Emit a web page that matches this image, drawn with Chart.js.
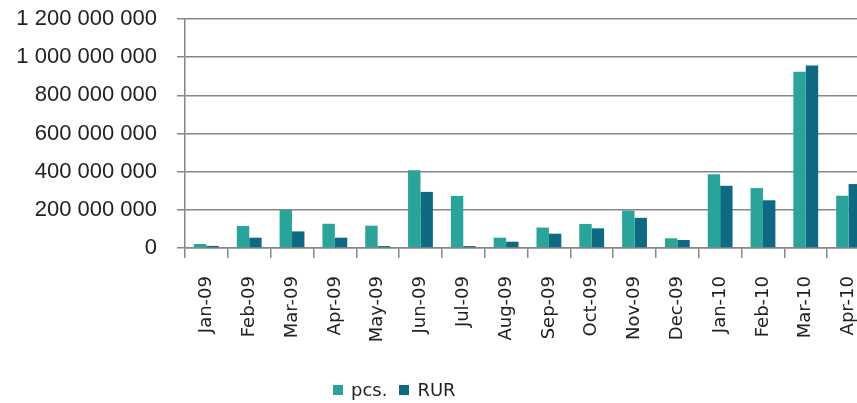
<!DOCTYPE html>
<html>
<head>
<meta charset="utf-8">
<script src="https://cdn.jsdelivr.net/npm/chart.js@4"></script>
<style>
  html, body { margin: 0; padding: 0; background: #fff; overflow: hidden; }
  #wrap { position: relative; width: 870px; height: 403px; }
  #chart { display: block; }
  #legend { position: absolute; left: 333px; top: 379px; font: 18px "DejaVu Sans", sans-serif; color: #222; white-space: nowrap; }
  #legend span.box { display: inline-block; width: 10px; height: 10px; margin-right: 8px; vertical-align: 1px; }
  #legend span.item { margin-right: 12px; }
</style>
</head>
<body>
<div id="wrap">
  <canvas id="chart" width="870" height="403"></canvas>
  <div id="legend"></div>
</div>
<script>
// months along the x axis
const months = ['Jan-09', 'Feb-09', 'Mar-09', 'Apr-09', 'May-09', 'Jun-09', 'Jul-09', 'Aug-09',
  'Sep-09', 'Oct-09', 'Nov-09', 'Dec-09', 'Jan-10', 'Feb-10', 'Mar-10', 'Apr-10'];

// values
const pcs = [21e6, 115e6, 200e6, 127e6, 117e6, 408e6, 273e6, 54e6,
  107e6, 126e6, 196e6, 51e6, 387e6, 314e6, 924e6, 274e6];
const rur = [11e6, 54e6, 87e6, 54e6, 10e6, 294e6, 10e6, 33e6,
  75e6, 103e6, 158e6, 42e6, 326e6, 250e6, 956e6, 335e6];

const seriesNames = ['pcs.', 'RUR'];
const seriesColors = ['#2aa39b', '#0d6a82'];
const yMax = 1200000000;
const yStep = 200000000;

const gridColor = '#868686';

// spaced thousands, e.g. 1 200 000 000
const fmt = (v) => String(v).replace(/\B(?=(\d{3})+(?!\d))/g, ' ');

new Chart(document.getElementById('chart'), {
  type: 'bar',
  data: {
    labels: months,
    datasets: [
      { label: seriesNames[0], data: pcs, backgroundColor: seriesColors[0] },
      { label: seriesNames[1], data: rur, backgroundColor: seriesColors[1] }
    ]
  },
  options: {
    responsive: false,
    animation: false,
    datasets: {
      bar: { categoryPercentage: 0.58, barPercentage: 1, borderWidth: 0 }
    },
    layout: { padding: { top: 19, right: 0, bottom: 55, left: 0 } },
    plugins: {
      legend: { display: false },
      tooltip: { enabled: false }
    },
    scales: {
      x: {
        offset: true,
        grid: {
          offset: true,
          drawOnChartArea: false,
          drawTicks: true,
          tickLength: 10,
          lineWidth: 1.5,
          color: gridColor
        },
        border: { color: gridColor, width: 1.5 },
        ticks: {
          autoSkip: false,
          minRotation: 90,
          maxRotation: 90,
          padding: 18,
          color: '#222',
          font: { family: 'DejaVu Sans', size: 18 }
        },
        afterFit: (scale) => {
          scale.height = 100;
          // the plot runs off the right edge, as in the source
          scale.paddingLeft = 0;
          scale.paddingRight = 0;
        }
      },
      y: {
        min: 0,
        max: yMax,
        grid: {
          color: gridColor,
          lineWidth: 1.5,
          tickLength: 8
        },
        border: { color: gridColor, width: 1.5 },
        ticks: {
          stepSize: yStep,
          padding: 20,
          color: '#222',
          font: { family: 'Liberation Sans', size: 22 },
          callback: (v) => fmt(v)
        },
        afterFit: (scale) => {
          scale.width = 185;
          // let the layout padding decide the top edge
          scale.paddingTop = 0;
          scale.paddingBottom = 0;
        }
      }
    }
  }
});

// legend below the axis labels
const legend = document.getElementById('legend');
seriesNames.forEach((name, i) => {
  const item = document.createElement('span');
  item.className = 'item';
  item.innerHTML = '<span class="box" style="background:' + seriesColors[i] + '"></span>' + name;
  legend.appendChild(item);
});
</script>
</body>
</html>
